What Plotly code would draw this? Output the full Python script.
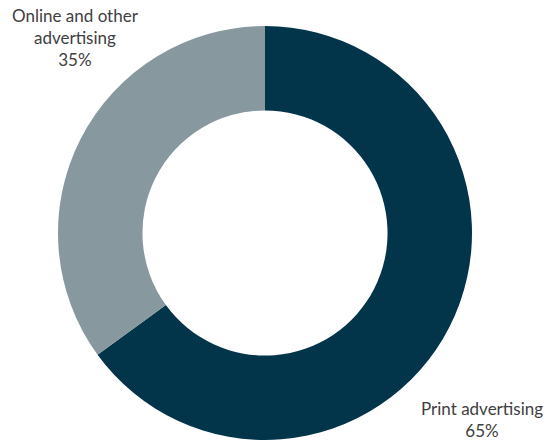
import plotly.graph_objects as go

labels = ["Print advertising", "Online and other advertising"]
values = [65, 35]
colors = ["#03354A", "#87999F"]
label_text = ["Print advertising<br>65%", "Online and other<br>advertising<br>35%"]

W, H = 552, 444
fig = go.Figure(go.Pie(
    labels=labels, values=values, hole=0.592, sort=False,
    direction="clockwise", rotation=0,
    marker=dict(colors=colors, line=dict(width=0)),
    textinfo="none", hoverinfo="label+percent", showlegend=False,
    domain=dict(x=[(265-207)/W, (265+207)/W], y=[1-440/H, 1-26/H]),
))

fig.add_annotation(x=481.5/W, y=1-419/H, xref="paper", yref="paper",
                   text=label_text[0], showarrow=False, align="center",
                   xanchor="center", yanchor="middle",
                   font=dict(family="Lato", size=17, color="#404040"))
fig.add_annotation(x=75/W, y=1-37/H, xref="paper", yref="paper",
                   text=label_text[1], showarrow=False, align="center",
                   xanchor="center", yanchor="middle",
                   font=dict(family="Lato", size=17, color="#404040"))

fig.update_layout(width=W, height=H, margin=dict(l=0, r=0, t=0, b=0),
                  paper_bgcolor="white", plot_bgcolor="white")
fig.write_html("out.html", config={"displayModeBar": False},
               post_script="document.body.style.margin='0';")
